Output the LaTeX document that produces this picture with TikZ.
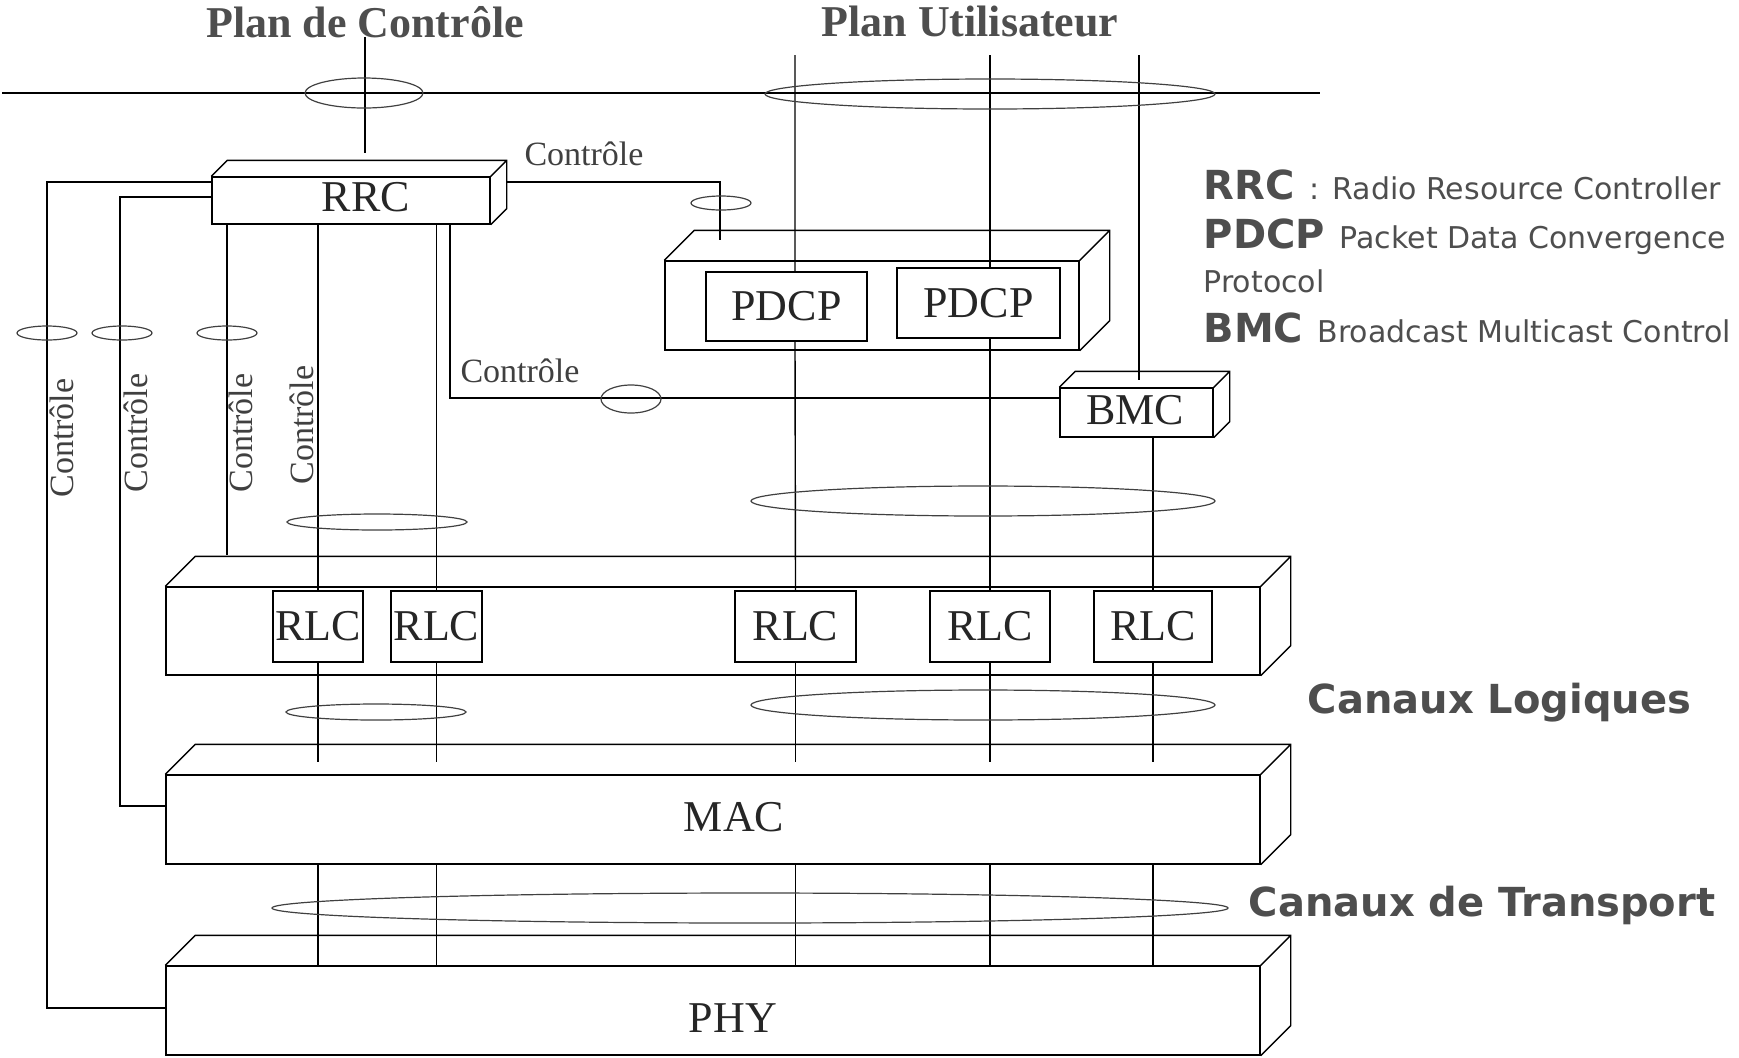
\documentclass[tikz,border=0pt]{standalone}
\usepackage{fontspec}
\setmainfont{Liberation Serif}
\newfontfamily\legendfont{DejaVu Sans}
\usetikzlibrary{calc, fit}

\definecolor{txtgray}{RGB}{78,78,78}

% faces du dessus et de droite d'une couche
\newcommand{\layerdepth}[2]{%
  \draw (#1.north west) -- ++(#2,-#2) -| ($(#1.south east)+(#2,-#2)$) -- (#1.south east)
        (#1.north east) -- ++(#2,-#2);}

\tikzset{
  layer/.style={draw, rectangle, inner sep=0pt},
  lbl/.style={font=\fontsize{22}{26}\selectfont, text=black!85},
  ctl/.style={font=\fontsize{17}{20}\selectfont, text=black!75, inner sep=0pt},
  plane/.style={font=\bfseries\fontsize{22}{26}\selectfont, text=txtgray, anchor=base},
  chan/.style={font=\legendfont\bfseries\fontsize{20}{24}\selectfont, text=txtgray, anchor=base west, inner sep=0pt},
  expl/.style={font=\legendfont\fontsize{15}{18}\selectfont, text=txtgray, anchor=base west, inner sep=0pt},
  ring/.style={draw=black!75, line width=0.6pt},
}

\begin{document}
\begin{tikzpicture}[x=0.5pt, y=-0.5pt, line width=0.7pt]
	\useasboundingbox (0,0) rectangle (1739,1057);

	\node[plane] (pc) at (365,37) {Plan de Contrôle};
	\node[plane] (pu) at (970,36) {Plan Utilisateur};

	% couches
	\node[layer, fit={(212,177) (490,224)}] (rrc) {};
	\node[layer, fit={(665,261) (1079,350)}] (pdcpbox) {};
	\node[layer, fit={(706,272) (867,341)}] (pdcpa) {};
	\node[layer, fit={(897,268) (1060,338)}] (pdcpb) {};
	\node[layer, fit={(1060,388) (1213,437)}] (bmc) {};
	\node[layer, fit={(166,587) (1260,675)}] (rlcbox) {};
	\node[layer, fit={(273,591) (363,662)}] (rlca) {};
	\node[layer, fit={(391,591) (482,662)}] (rlcb) {};
	\node[layer, fit={(735,591) (856,662)}] (rlcc) {};
	\node[layer, fit={(930,591) (1050,662)}] (rlcd) {};
	\node[layer, fit={(1094,591) (1212,662)}] (rlce) {};
	\node[layer, fit={(166,775) (1260,864)}] (mac) {};
	\node[layer, fit={(166,966) (1260,1055)}] (phy) {};

	\node[lbl] (rrclab) at (366,197) {RRC};
	\node[lbl] (pdcpalab) at (pdcpa.center) {PDCP};
	\node[lbl] (pdcpblab) at (pdcpb.center) {PDCP};
	\node[lbl] (bmclab) at (1135,410) {BMC};
	\foreach \r in {rlca,rlcb,rlcc,rlcd,rlce}
		\node[lbl] (\r lab) at (\r.center) {RLC};
	\node[lbl] (maclab) at (734,817) {MAC};
	\node[lbl] (phylab) at (733,1018) {PHY};

	\layerdepth{rrc}{16}
	\layerdepth{pdcpbox}{30}
	\layerdepth{bmc}{16}
	\layerdepth{rlcbox}{30}
	\layerdepth{mac}{30}
	\layerdepth{phy}{30}

	% plans
	\coordinate (hl) at (2,93);
	\coordinate (hr) at (1320,93);
	\coordinate (cp) at (365,37);
	\coordinate (u1) at (795,55);
	\coordinate (u2) at (990,55);
	\coordinate (u3) at (1139,55);
	\draw (hl) -- (hr);
	\draw (cp) -- (365,153);
	\draw (u1) -- (u1 |- pdcpa.north) (u1 |- pdcpa.south) -- (rlcc.north);
	\draw (u2) -- (u2 |- pdcpb.north) (u2 |- pdcpb.south) -- (rlcd.north);
	\draw (u3) -- (1139,380);
	\draw (bmc.south -| rlce.north) -- (rlce.north);

	% controle
	\draw (rrc.west |- 0,182) -| (47,1008) -- (phy.west |- 0,1008);
	\draw (rrc.west |- 0,197) -| (120,806) -- (mac.west |- 0,806);
	\draw (rrc.south -| 227,0) -- (227,555);
	\draw (rrc.south -| rlca.north) -- (rlca.north);
	\draw (rrc.south -| rlcb.north) -- (rlcb.north);
	\draw (rrc.south -| 450,0) |- (bmc.west |- 0,398);
	\draw (507,182) -| (720,240);

	\foreach \r in {rlca,rlcb,rlcc,rlcd,rlce}{
		\draw (\r.south) -- (\r.south |- 0,762);
		\draw (\r.south |- mac.south) -- (\r.south |- phy.north);
	}

	\node[ctl] (ctla) at (584,154) {Contrôle};
	\node[ctl] (ctlb) at (520,371) {Contrôle};
	\node[ctl, rotate=90] (ctlc) at (62,438) {Contrôle};
	\node[ctl, rotate=90] (ctld) at (136,433) {Contrôle};
	\node[ctl, rotate=90] (ctle) at (241,433) {Contrôle};
	\node[ctl, rotate=90] (ctlf) at (302,425) {Contrôle};

	% anneaux
	\draw[ring] (364,93) ellipse [x radius=59, y radius=15];
	\draw[ring] (990,94) ellipse [x radius=225, y radius=15];
	\draw[ring] (721,203) ellipse [x radius=30, y radius=7];
	\foreach \x in {47,122,227}
		\draw[ring] (\x,333) ellipse [x radius=30, y radius=7];
	\draw[ring] (631,399) ellipse [x radius=30, y radius=14];
	\draw[ring] (377,522) ellipse [x radius=90, y radius=8];
	\draw[ring] (983,501) ellipse [x radius=232, y radius=15];
	\draw[ring] (376,712) ellipse [x radius=90, y radius=8];
	\draw[ring] (983,705) ellipse [x radius=232, y radius=15];
	\draw[ring] (750,908) ellipse [x radius=478, y radius=15];

	\node[chan] (logi) at (1307,713) {Canaux Logiques};
	\node[chan] (trans) at (1248,916) {Canaux de Transport};

	% legende
	\node[chan] (lrrc) at (1203,199) {RRC};
	\node[expl] (lrrct) at (1309,199) {: Radio Resource Controller};
	\node[chan] (lpdcp) at (1203,248) {PDCP};
	\node[expl] (lpdcpt) at (1339,248) {Packet Data Convergence};
	\node[expl] (lprot) at (1203,292) {Protocol};
	\node[chan] (lbmc) at (1203,342) {BMC};
	\node[expl] (lbmct) at (1317,342) {Broadcast Multicast Control};
\end{tikzpicture}
\end{document}
